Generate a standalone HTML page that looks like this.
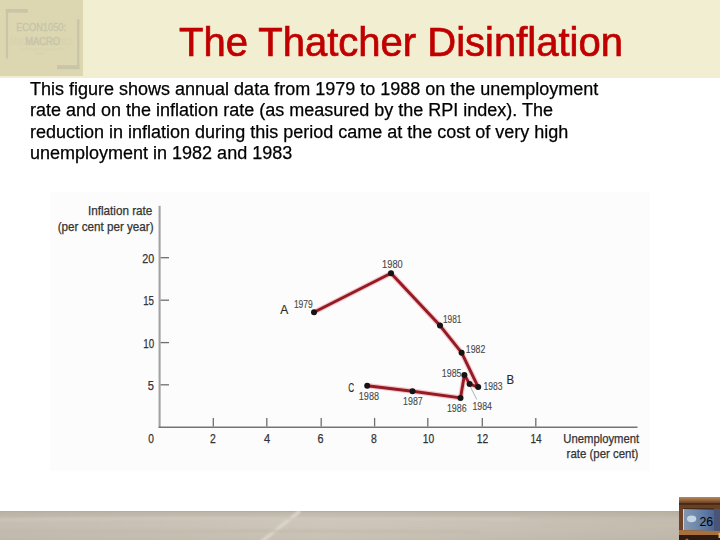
<!DOCTYPE html>
<html><head><meta charset="utf-8">
<style>
html,body{margin:0;padding:0;}
body{width:720px;height:540px;position:relative;overflow:hidden;background:#fff;font-family:"Liberation Sans",sans-serif;}
#hdr{position:absolute;left:0;top:0;width:720px;height:77.7px;background:#F2EED1;}
#title{position:absolute;left:179px;top:20px;font-size:40px;line-height:normal;color:#C00000;-webkit-text-stroke:0.7px #C00000;will-change:transform;white-space:nowrap;}
#body{position:absolute;left:29.6px;top:79px;will-change:transform;-webkit-text-stroke:0.25px #000;font-size:18px;line-height:21.3px;color:#000;white-space:nowrap;}
#chart{position:absolute;left:0;top:0;}
</style></head><body>
<div id="hdr"></div>
<svg id="logo" width="83" height="76" viewBox="0 0 83 76" style="position:absolute;left:0;top:0">
 <rect width="83" height="76" fill="#DCD7B1"/>
 <g fill="#C9C5A8">
 <rect x="5.8" y="9" width="22" height="3.7"/>
 <rect x="5.8" y="9" width="2.3" height="49.4"/>
 <rect x="77" y="19.2" width="2.4" height="50"/>
 <rect x="57" y="65.2" width="22.4" height="4"/>
 </g>
 <g font-family="Liberation Sans" fill="#D7D2AE">
 <text x="10" y="45" font-size="12" textLength="63" lengthAdjust="spacingAndGlyphs">Macroeconomics</text>
 <text x="21" y="50.5" font-size="4.5" textLength="43" lengthAdjust="spacingAndGlyphs">an introduction to economic policy</text>
 </g>
 <rect x="35" y="53" width="10" height="0.8" fill="#D5D0AC"/>
 <g font-family="Liberation Sans" fill="#C7C4A9" stroke="#C7C4A9" stroke-width="0.35">
 <text x="16.2" y="31.3" font-size="10.6" textLength="49.8" lengthAdjust="spacingAndGlyphs">ECON1050:</text>
 <text x="25.2" y="44.5" font-size="10.6" textLength="35" lengthAdjust="spacingAndGlyphs">MACRO</text>
 </g>
</svg>
<div id="title">The Thatcher Disinflation</div>
<div id="body">This figure shows annual data from 1979 to 1988 on the unemployment<br>rate and on the inflation rate (as measured by the RPI index). The<br>reduction in inflation during this period came at the cost of very high<br>unemployment in 1982 and 1983</div>
<svg id="chart" width="720" height="540" viewBox="0 0 720 540">
<rect x="50" y="192" width="599.5" height="278.5" fill="#FCFCFC"/>
<line x1="159.6" y1="205.8" x2="159.6" y2="427.5" stroke="#A2A2A2" stroke-width="2.1"/>
<line x1="158.6" y1="427.2" x2="637.5" y2="427.2" stroke="#747474" stroke-width="1.6"/>
<g stroke="#6E6E6E" stroke-width="1.3" fill="none">
<line x1="160.6" y1="257.7" x2="169" y2="257.7"/>
<line x1="160.6" y1="300.2" x2="169" y2="300.2"/>
<line x1="160.6" y1="342.6" x2="169" y2="342.6"/>
<line x1="160.6" y1="384.8" x2="169" y2="384.8"/>
<line x1="213.3" y1="417.9" x2="213.3" y2="426.4"/>
<line x1="266.8" y1="417.9" x2="266.8" y2="426.4"/>
<line x1="321.2" y1="417.9" x2="321.2" y2="426.4"/>
<line x1="374.6" y1="417.9" x2="374.6" y2="426.4"/>
<line x1="427.8" y1="417.9" x2="427.8" y2="426.4"/>
<line x1="482.3" y1="417.9" x2="482.3" y2="426.4"/>
<line x1="535.8" y1="417.9" x2="535.8" y2="426.4"/>
</g>
<line x1="470" y1="386" x2="476.8" y2="399.5" stroke="#A4B8B6" stroke-width="1"/>
<path d="M314,312.3 L391,273.3 L440,325.6 L461.6,352.7 L478.2,387.1 L469.6,384 L464.4,374.9 L460.5,397.9 L412.5,391.2 L367.2,385.7" stroke="#E06070" stroke-opacity="0.35" stroke-width="5.2" fill="none" stroke-linejoin="round"/>
<path d="M314,312.3 L391,273.3 L440,325.6 L461.6,352.7 L478.2,387.1 L469.6,384 L464.4,374.9 L460.5,397.9 L412.5,391.2 L367.2,385.7" stroke="#951A23" stroke-width="2.9" fill="none" stroke-linejoin="round"/>
<circle cx="314" cy="312.3" r="3.0" fill="#141414"/>
<circle cx="391" cy="273.3" r="3.0" fill="#141414"/>
<circle cx="440" cy="325.6" r="3.0" fill="#141414"/>
<circle cx="461.6" cy="352.7" r="3.0" fill="#141414"/>
<circle cx="478.2" cy="387.1" r="3.0" fill="#141414"/>
<circle cx="469.6" cy="384" r="3.0" fill="#141414"/>
<circle cx="464.4" cy="374.9" r="3.0" fill="#141414"/>
<circle cx="460.5" cy="397.9" r="3.0" fill="#141414"/>
<circle cx="412.5" cy="391.2" r="3.0" fill="#141414"/>
<circle cx="367.2" cy="385.7" r="3.0" fill="#141414"/>
<g font-family="Liberation Sans">
<text x="87.89999999999999" y="214.9" font-size="12.2" textLength="64.5" lengthAdjust="spacingAndGlyphs" fill="#333" stroke="#333" stroke-width="0.25">Inflation rate</text>
<text x="57.7" y="231" font-size="12.2" textLength="95.89999999999999" lengthAdjust="spacingAndGlyphs" fill="#333" stroke="#333" stroke-width="0.25">(per cent per year)</text>
<text x="142.2" y="262.7" font-size="12" textLength="11.899999999999995" lengthAdjust="spacingAndGlyphs" fill="#333" stroke="#333" stroke-width="0.25">20</text>
<text x="143.2" y="304.9" font-size="12" textLength="10.700000000000006" lengthAdjust="spacingAndGlyphs" fill="#333" stroke="#333" stroke-width="0.25">15</text>
<text x="143.2" y="347.5" font-size="12" textLength="10.899999999999995" lengthAdjust="spacingAndGlyphs" fill="#333" stroke="#333" stroke-width="0.25">10</text>
<text x="147.7" y="389.5" font-size="12" textLength="6.2000000000000055" lengthAdjust="spacingAndGlyphs" fill="#333" stroke="#333" stroke-width="0.25">5</text>
<text x="148.35" y="442.8" font-size="12" textLength="5.649999999999994" lengthAdjust="spacingAndGlyphs" fill="#333" stroke="#333" stroke-width="0.25">0</text>
<text x="210.1" y="442.6" font-size="12" textLength="5.8" lengthAdjust="spacingAndGlyphs" fill="#333" stroke="#333" stroke-width="0.25">2</text>
<text x="263.90000000000003" y="442.6" font-size="12" textLength="6.199999999999977" lengthAdjust="spacingAndGlyphs" fill="#333" stroke="#333" stroke-width="0.25">4</text>
<text x="317.40000000000003" y="442.6" font-size="12" textLength="5.9999999999999885" lengthAdjust="spacingAndGlyphs" fill="#333" stroke="#333" stroke-width="0.25">6</text>
<text x="371.1" y="442.6" font-size="12" textLength="5.8" lengthAdjust="spacingAndGlyphs" fill="#333" stroke="#333" stroke-width="0.25">8</text>
<text x="422.8" y="442.6" font-size="12" textLength="11.400000000000023" lengthAdjust="spacingAndGlyphs" fill="#333" stroke="#333" stroke-width="0.25">10</text>
<text x="476.8" y="442.6" font-size="12" textLength="11.400000000000023" lengthAdjust="spacingAndGlyphs" fill="#333" stroke="#333" stroke-width="0.25">12</text>
<text x="530.4" y="442.6" font-size="12" textLength="11.200000000000092" lengthAdjust="spacingAndGlyphs" fill="#333" stroke="#333" stroke-width="0.25">14</text>
<text x="563.35" y="443" font-size="12.2" textLength="75.8" lengthAdjust="spacingAndGlyphs" fill="#333" stroke="#333" stroke-width="0.25">Unemployment</text>
<text x="566.6" y="458" font-size="12.2" textLength="71.8" lengthAdjust="spacingAndGlyphs" fill="#333" stroke="#333" stroke-width="0.25">rate (per cent)</text>
<text x="293.90000000000003" y="308.4" font-size="10.5" textLength="18.899999999999967" lengthAdjust="spacingAndGlyphs" fill="#484848" stroke="#484848" stroke-width="0.12">1979</text>
<text x="382.1" y="267.9" font-size="10.5" textLength="20.600000000000012" lengthAdjust="spacingAndGlyphs" fill="#484848" stroke="#484848" stroke-width="0.12">1980</text>
<text x="442.90000000000003" y="322.7" font-size="10.5" textLength="18.49999999999999" lengthAdjust="spacingAndGlyphs" fill="#484848" stroke="#484848" stroke-width="0.12">1981</text>
<text x="465.8" y="352.9" font-size="10.5" textLength="19.49999999999999" lengthAdjust="spacingAndGlyphs" fill="#484848" stroke="#484848" stroke-width="0.12">1982</text>
<text x="441.8" y="376.7" font-size="10.5" textLength="19.700000000000035" lengthAdjust="spacingAndGlyphs" fill="#484848" stroke="#484848" stroke-width="0.12">1985</text>
<text x="483.6" y="389.6" font-size="10.5" textLength="18.99999999999999" lengthAdjust="spacingAndGlyphs" fill="#484848" stroke="#484848" stroke-width="0.12">1983</text>
<text x="446.90000000000003" y="411.8" font-size="10.5" textLength="19.699999999999978" lengthAdjust="spacingAndGlyphs" fill="#484848" stroke="#484848" stroke-width="0.12">1986</text>
<text x="472.5" y="410.4" font-size="10.5" textLength="19.500000000000046" lengthAdjust="spacingAndGlyphs" fill="#484848" stroke="#484848" stroke-width="0.12">1984</text>
<text x="403.1" y="405.3" font-size="10.5" textLength="19.600000000000012" lengthAdjust="spacingAndGlyphs" fill="#484848" stroke="#484848" stroke-width="0.12">1987</text>
<text x="358.8" y="400.3" font-size="10.5" textLength="20.200000000000035" lengthAdjust="spacingAndGlyphs" fill="#484848" stroke="#484848" stroke-width="0.12">1988</text>
<text x="280.3" y="313.6" font-size="12.6" textLength="7.9999999999999885" lengthAdjust="spacingAndGlyphs" fill="#2A2A2A" stroke="#2A2A2A" stroke-width="0.15">A</text>
<text x="506.6" y="384" font-size="12.2" textLength="7.599999999999954" lengthAdjust="spacingAndGlyphs" fill="#2A2A2A" stroke="#2A2A2A" stroke-width="0.15">B</text>
<text x="348.35" y="391.7" font-size="12.4" textLength="5.949999999999977" lengthAdjust="spacingAndGlyphs" fill="#2A2A2A" stroke="#2A2A2A" stroke-width="0.15">C</text>
</g>

</svg>
<svg id="foot" width="720" height="29" viewBox="0 511 720 29" style="position:absolute;left:0;top:511px">
 <defs>
  <linearGradient id="fg" x1="0" x2="1" y1="0" y2="0">
   <stop offset="0" stop-color="#C2BAAD"/>
   <stop offset="0.2" stop-color="#C6BEB1"/>
   <stop offset="0.45" stop-color="#CBC3B6"/>
   <stop offset="0.7" stop-color="#C6BEB1"/>
   <stop offset="1" stop-color="#BEB6A9"/>
  </linearGradient>
  <linearGradient id="fv" x1="0" x2="0" y1="0" y2="1">
   <stop offset="0" stop-color="#B0A898" stop-opacity="0.55"/>
   <stop offset="0.18" stop-color="#B0A898" stop-opacity="0.15"/>
   <stop offset="0.35" stop-color="#FFFFFF" stop-opacity="0.05"/>
   <stop offset="1" stop-color="#A89F90" stop-opacity="0.1"/>
  </linearGradient>
  <filter id="bl" x="-10%" y="-50%" width="120%" height="200%"><feGaussianBlur stdDeviation="1"/></filter>
 </defs>
 <rect x="0" y="511" width="720" height="29" fill="url(#fg)"/>
 <rect x="0" y="511" width="720" height="29" fill="url(#fv)"/>
 <rect x="0" y="511" width="720" height="1" fill="#B4AC9E"/>
 <g filter="url(#bl)" fill="none">
  <path d="M261 542 L300 511" stroke="#DCD6CB" stroke-width="3.4"/>
  <path d="M0 520 C100 518 200 518 300 519 C380 520 440 518 520 519" stroke="#D0C9BD" stroke-width="2.2" stroke-opacity="0.8"/>
  <path d="M540 526 C600 525 640 527 680 525" stroke="#C8BDAE" stroke-width="2"/>
  <path d="M0 531 C150 532 300 530 480 532" stroke="#C0B8AA" stroke-width="3" stroke-opacity="0.6"/>
 </g>
</svg>
<svg id="pic" width="41" height="43" viewBox="679 497 41 43" style="position:absolute;left:679px;top:497px">
 <defs>
  <linearGradient id="pb" x1="0" x2="1" y1="0" y2="0">
   <stop offset="0" stop-color="#8499B2"/>
   <stop offset="0.45" stop-color="#6E88AC"/>
   <stop offset="0.75" stop-color="#5A76A2"/>
   <stop offset="1" stop-color="#4E6690"/>
  </linearGradient>
  <linearGradient id="pt" x1="0" x2="0" y1="0" y2="1">
   <stop offset="0" stop-color="#B88A5E"/>
   <stop offset="0.5" stop-color="#8C5A34"/>
   <stop offset="1" stop-color="#4A2A16"/>
  </linearGradient>
 </defs>
 <rect x="679" y="497" width="41" height="43" fill="#6E4226"/>
 <rect x="679" y="497" width="41" height="8" fill="url(#pt)"/>
 <rect x="679" y="504" width="41" height="5" fill="#6A4024"/>
 <rect x="679" y="503.3" width="41" height="1.4" fill="#3E2414"/>
 <rect x="683" y="508" width="31" height="1.2" fill="#4A2C18"/>
 <path d="M683 509 L714 510 L714 531 L683 530 Z" fill="url(#pb)"/>
 <rect x="683" y="509" width="1" height="21" fill="#C8D4E0"/>
 <rect x="714" y="509" width="6" height="22" fill="#4A5478"/>
 <ellipse cx="691.6" cy="518.8" rx="4.7" ry="3.4" fill="#C4D6E2"/>
 <path d="M679 530 L720 531 L720 535 L679 535 Z" fill="#A8703E"/>
 <rect x="679" y="535" width="41" height="5" fill="#2E1A0E"/>
 <circle cx="687" cy="540" r="1.6" fill="#D06020"/>
 <rect x="718.5" y="533" width="1.5" height="5" fill="#E0C040"/>
 <text x="699.4" y="525.9" font-family="Liberation Sans" font-size="12.3" fill="#000">26</text>
</svg>
</body></html>
